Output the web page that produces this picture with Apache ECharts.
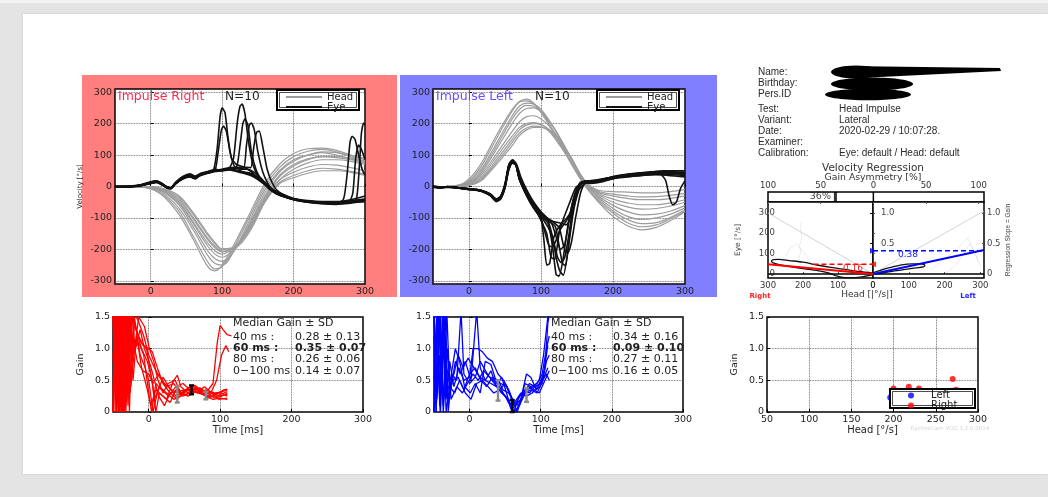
<!DOCTYPE html>
<html><head><meta charset="utf-8">
<script src="https://cdn.jsdelivr.net/npm/echarts@6.0.0/dist/echarts.min.js"></script>
<style>
html,body{margin:0;padding:0;width:1048px;height:497px;overflow:hidden;background:#e4e4e4;}
#topbar{position:absolute;left:0;top:0;width:1048px;height:3px;background:#f3f3f3;}
#page{position:absolute;left:23px;top:14px;width:1025px;height:460px;background:#fff;box-shadow:0 0 2px #c8c8c8;}
#redPanel{position:absolute;left:82px;top:75px;width:315px;height:222px;background:#ff7f7f;}
#bluePanel{position:absolute;left:400px;top:75px;width:317px;height:222px;background:#7f7fff;}
#chart{position:absolute;left:0;top:0;width:1048px;height:497px;}
</style></head><body>
<div id="topbar"></div><div id="page"></div><div id="redPanel"></div><div id="bluePanel"></div><div id="chart"></div>
<script>
// ---------------- DATA ----------------
const headRX = [-50,-30,-10,0,10,20,40,60,80,90,100,120,140,160,180,200,220,240,260,280,300];
const headR = [
[0,0,-3,-8,-18,-35,-90,-170,-255,-268,-250,-170,-80,10,70,105,120,122,115,100,85],
[0,0,-2,-6,-15,-30,-80,-160,-240,-262,-255,-180,-90,0,60,95,112,118,110,95,80],
[0,0,-2,-5,-12,-25,-70,-140,-220,-245,-250,-190,-100,-10,50,85,100,108,100,88,75],
[0,0,-1,-4,-10,-20,-60,-130,-205,-230,-238,-195,-110,-20,45,80,100,110,108,98,90],
[0,0,-1,-3,-8,-18,-55,-120,-190,-215,-225,-190,-115,-30,35,70,88,95,92,85,78],
[0,0,-1,-3,-8,-16,-50,-115,-180,-205,-215,-185,-120,-35,30,65,85,95,95,90,82],
[0,0,0,-2,-6,-14,-45,-105,-170,-195,-208,-190,-125,-42,20,55,75,85,85,80,70],
[0,0,0,-2,-5,-12,-40,-100,-165,-190,-205,-188,-128,-40,20,45,62,70,68,60,50],
[0,0,0,-1,-4,-10,-35,-90,-155,-182,-200,-190,-132,-45,12,35,50,58,55,48,40],
[0,0,0,-1,-3,-8,-30,-85,-150,-178,-198,-192,-138,-50,8,28,42,50,50,45,35]
];
const eyeR = [
[[-50,0],[-35,-2],[-20,2],[-10,8],[0,15],[8,18],[15,10],[22,-2],[28,-5],[35,10],[45,28],[55,32],[62,25],[70,38],[80,45],[88,52],[93,120],[97,220],[100,250],[104,235],[108,160],[113,90],[120,70],[130,62],[140,48],[150,28],[160,8],[170,-12],[185,-30],[200,-42],[220,-50],[240,-55],[260,-57],[280,-50],[300,-42]],
[[-50,0],[-35,0],[-20,3],[-10,6],[0,12],[8,16],[15,8],[22,-4],[28,-8],[35,8],[45,25],[55,35],[62,30],[70,35],[80,42],[90,50],[95,120],[99,180],[102,192],[106,175],[111,110],[117,65],[125,55],[135,55],[145,45],[155,25],[165,0],[175,-20],[190,-35],[210,-45],[230,-50],[250,-50],[270,-48],[290,-42],[300,-40]],
[[-50,0],[-35,1],[-20,0],[-10,5],[0,10],[8,14],[15,6],[22,-3],[28,-6],[35,12],[45,30],[55,36],[62,28],[70,40],[80,48],[90,55],[100,52],[110,58],[116,90],[121,200],[125,255],[128,262],[132,230],[137,140],[143,70],[150,35],[158,12],[166,-8],[180,-28],[200,-40],[220,-48],[240,-52],[260,-55],[280,-52],[300,-48]],
[[-50,0],[-35,-1],[-20,1],[-10,4],[0,9],[8,13],[15,7],[22,-2],[28,-4],[35,14],[45,32],[55,40],[62,33],[70,42],[80,47],[90,50],[100,55],[110,60],[120,62],[125,130],[129,200],[132,215],[136,195],[141,110],[148,50],[156,18],[165,-5],[178,-25],[195,-38],[215,-45],[240,-50],[265,-52],[300,-45]],
[[-50,0],[-35,0],[-20,2],[-10,7],[0,13],[8,17],[15,9],[22,0],[28,-3],[35,10],[45,24],[55,30],[62,26],[70,36],[80,44],[90,48],[100,50],[110,55],[120,58],[130,56],[134,130],[138,195],[141,202],[145,180],[150,110],[157,45],[164,10],[172,-15],[188,-32],[205,-42],[225,-48],[250,-52],[275,-50],[300,-44]],
[[-50,0],[-35,-1],[-20,1],[-10,5],[0,11],[8,15],[15,8],[22,-1],[28,-4],[35,12],[45,27],[55,34],[62,30],[70,40],[80,46],[90,52],[100,53],[110,57],[120,60],[130,62],[140,60],[144,120],[148,172],[152,176],[157,125],[163,55],[170,12],[178,-15],[192,-32],[210,-44],[235,-50],[260,-53],[285,-50],[300,-46]],
[[-50,0],[-35,0],[-20,2],[-10,6],[0,12],[8,15],[15,9],[22,-2],[28,-5],[35,10],[45,26],[55,33],[62,27],[70,38],[80,44],[90,50],[100,52],[110,55],[120,50],[130,45],[140,40],[150,28],[160,10],[170,-10],[185,-28],[200,-40],[220,-48],[240,-52],[260,-56],[270,-40],[275,40],[279,140],[282,160],[286,150],[291,100],[296,55],[300,35]],
[[-50,0],[-35,1],[-20,3],[-10,7],[0,14],[8,17],[15,11],[22,0],[28,-4],[35,9],[45,26],[55,31],[62,24],[70,37],[80,43],[90,49],[100,50],[110,53],[120,48],[130,42],[140,35],[150,22],[160,5],[170,-14],[185,-30],[200,-42],[220,-50],[240,-54],[260,-55],[280,-52],[288,-40],[292,60],[295,170],[298,202],[300,195]],
[[-50,0],[-35,-1],[-20,1],[-10,5],[0,10],[8,14],[15,7],[22,-3],[28,-6],[35,11],[45,28],[55,35],[62,29],[70,39],[80,46],[90,51],[100,54],[110,56],[120,52],[130,46],[140,38],[150,25],[160,8],[170,-12],[185,-28],[200,-40],[220,-47],[240,-50],[260,-52],[278,-48],[283,-20],[287,90],[291,132],[295,118],[300,85]],
[[-50,0],[-35,0],[-20,2],[-10,6],[0,12],[8,16],[15,10],[22,-1],[28,-5],[35,9],[45,25],[55,33],[62,28],[70,37],[80,45],[90,50],[100,52],[110,54],[120,50],[130,46],[140,42],[150,30],[160,12],[170,-8],[185,-25],[200,-38],[220,-45],[240,-48],[260,-48],[280,-42],[300,-30]]
];
const headLX = [-50,-30,-10,0,10,20,40,60,70,80,90,100,110,120,140,160,180,200,220,240,260,280,300];
const headL = [
[0,0,8,25,50,85,170,245,270,278,265,235,200,160,80,5,-50,-95,-125,-138,-130,-108,-80],
[0,0,6,20,42,75,160,240,268,272,262,238,205,165,85,8,-45,-85,-115,-128,-122,-102,-78],
[0,0,5,16,36,65,145,225,255,265,262,245,215,178,95,12,-40,-78,-105,-118,-115,-98,-75],
[0,0,4,14,30,58,135,215,245,258,255,240,212,180,98,15,-35,-70,-95,-105,-100,-88,-68],
[0,0,3,12,26,52,125,200,232,248,250,238,210,178,98,16,-30,-60,-80,-90,-88,-78,-60],
[0,0,2,10,22,45,110,175,205,222,225,215,195,168,100,20,-25,-50,-65,-72,-70,-62,-50],
[0,0,2,8,18,38,100,160,188,200,203,198,182,158,95,18,-22,-40,-52,-58,-58,-52,-42],
[0,0,1,6,15,32,90,150,180,195,200,196,184,162,98,22,-18,-30,-38,-42,-42,-38,-30],
[0,0,1,5,12,28,82,140,170,186,192,190,180,158,95,20,-15,-24,-30,-33,-32,-28,-22],
[0,0,0,4,10,24,75,130,162,180,188,188,178,150,85,15,-12,-16,-18,-20,-20,-16,-10]
];
const eyeL = [
[[-50,0],[-40,-4],[-30,0],[-20,-3],[-10,-5],[0,-8],[10,-10],[20,-15],[30,-28],[38,-45],[44,-35],[50,5],[55,65],[60,82],[65,72],[70,25],[80,-25],[90,-65],[100,-92],[110,-118],[116,-190],[121,-280],[125,-285],[130,-240],[137,-130],[145,-40],[153,5],[162,18],[175,15],[190,22],[210,32],[230,40],[250,45],[270,48],[290,44],[300,40]],
[[-50,2],[-40,-2],[-30,-3],[-20,-2],[-10,-6],[0,-10],[10,-12],[20,-18],[30,-30],[38,-48],[44,-40],[50,-5],[55,50],[60,75],[66,70],[72,30],[80,-10],[90,-50],[100,-80],[108,-100],[115,-150],[121,-225],[126,-268],[131,-282],[137,-210],[144,-95],[151,-15],[158,14],[170,10],[185,15],[200,25],[230,38],[260,44],[285,45],[300,38]],
[[-50,0],[-40,-3],[-30,-1],[-20,-4],[-10,-4],[0,-7],[10,-9],[20,-14],[30,-25],[38,-40],[44,-30],[50,10],[56,72],[61,85],[66,68],[72,20],[82,-35],[92,-75],[100,-100],[104,-170],[108,-250],[112,-245],[118,-160],[126,-125],[136,-100],[144,-70],[150,-20],[157,12],[170,18],[190,22],[220,35],[250,40],[280,42],[300,40]],
[[-50,-2],[-40,-5],[-30,0],[-20,-2],[-10,-7],[0,-9],[10,-11],[20,-16],[30,-26],[38,-42],[44,-33],[50,0],[55,55],[60,78],[65,74],[70,28],[80,-18],[90,-58],[100,-85],[110,-108],[120,-128],[126,-200],[130,-245],[134,-252],[140,-150],[147,-35],[155,8],[165,15],[180,18],[200,32],[230,42],[260,46],[300,45]],
[[-50,0],[-40,-4],[-30,-2],[-20,-3],[-10,-5],[0,-8],[10,-10],[20,-14],[30,-24],[38,-40],[44,-32],[50,2],[55,60],[60,80],[65,70],[70,22],[80,-28],[90,-68],[100,-95],[108,-105],[115,-118],[121,-160],[127,-200],[133,-185],[142,-70],[150,-5],[160,15],[175,20],[200,30],[230,40],[260,38],[300,30]],
[[-50,0],[-40,-3],[-30,-1],[-20,-3],[-10,-6],[0,-9],[10,-12],[20,-17],[30,-30],[38,-46],[44,-37],[50,-2],[55,58],[60,76],[65,68],[70,24],[80,-22],[90,-62],[100,-108],[108,-150],[114,-225],[119,-232],[126,-140],[135,-110],[142,-80],[150,-20],[158,10],[170,12],[200,25],[240,35],[265,40],[273,20],[278,-30],[283,-58],[288,-50],[294,-5],[300,18]],
[[-50,0],[-40,-5],[-30,-1],[-20,-2],[-10,-5],[0,-7],[10,-10],[20,-15],[30,-27],[38,-43],[44,-34],[50,4],[55,62],[60,80],[65,71],[70,26],[80,-20],[90,-60],[100,-88],[112,-105],[125,-130],[132,-195],[137,-212],[142,-180],[148,-100],[155,-20],[162,14],[180,20],[200,30],[240,42],[270,50],[300,50]],
[[-50,1],[-40,-3],[-30,-2],[-20,-4],[-10,-6],[0,-9],[10,-11],[20,-16],[30,-28],[38,-44],[44,-36],[50,0],[55,56],[60,77],[65,72],[70,30],[80,-15],[90,-55],[98,-78],[106,-95],[115,-110],[125,-115],[135,-122],[145,-70],[153,-10],[162,10],[180,15],[200,28],[240,35],[270,38],[300,35]],
[[-50,0],[-40,-4],[-30,0],[-20,-3],[-10,-5],[0,-8],[10,-10],[20,-15],[30,-26],[38,-41],[44,-31],[50,6],[55,68],[60,84],[65,73],[70,22],[80,-30],[90,-70],[100,-102],[106,-150],[111,-188],[116,-192],[122,-165],[130,-110],[140,-50],[148,-5],[157,12],[175,18],[200,30],[230,40],[260,45],[300,45]],
[[-50,0],[-40,-3],[-30,-1],[-20,-2],[-10,-6],[0,-8],[10,-11],[20,-16],[30,-29],[38,-47],[44,-38],[50,-3],[55,52],[60,74],[65,70],[70,28],[80,-18],[90,-58],[100,-95],[110,-130],[117,-170],[123,-225],[128,-242],[133,-225],[139,-150],[146,-40],[154,12],[165,18],[185,20],[210,32],[250,40],[300,40]]
];
const gainR = [
[[-50,1.6],[-47,0],[-44,1.6],[-40,0.2],[-36,1.6],[-32,0.4],[-28,1.6],[-22,1.5],[-15,1.2],[-8,1.05],[0,1.0],[5,0.95],[12,0.7],[20,0.45],[30,0.3],[40,0.32],[50,0.35],[60,0.37],[70,0.35],[80,0.3],[90,0.45],[96,1.1],[100,1.37],[104,1.3],[110,1.22],[116,1.2]],
[[-50,0],[-46,1.6],[-43,0.1],[-39,1.6],[-35,0],[-30,1.6],[-26,0.3],[-20,1.4],[-10,1.0],[-2,0.8],[5,0.5],[10,0.0],[15,0.3],[25,0.2],[35,0.5],[40,0.58],[45,0.4],[55,0.3],[65,0.4],[75,0.3],[85,0.25],[95,0.5],[102,0.9],[108,1.05],[112,0.95]],
[[-50,1.6],[-45,0.5],[-41,1.6],[-37,0],[-33,1.6],[-29,0.1],[-25,1.6],[-18,1.3],[-10,1.1],[-3,1.0],[3,0.6],[8,0.2],[15,0.4],[25,0.3],[35,0.2],[45,0.25],[55,0.35],[65,0.38],[75,0.28],[85,0.25],[95,0.25],[105,0.3],[110,0.32]],
[[-50,0.3],[-47,1.6],[-42,0],[-38,1.6],[-34,0.2],[-30,1.6],[-24,0.8],[-20,1.5],[-12,0.9],[-5,0.7],[0,0.5],[6,0],[12,0.3],[20,0.55],[28,0.4],[38,0.25],[48,0.3],[58,0.4],[68,0.32],[78,0.27],[90,0.2],[100,0.22],[110,0.2]],
[[-50,1.6],[-45,0],[-40,1.6],[-36,0.5],[-31,1.6],[-27,0],[-23,1.6],[-15,1.45],[-7,1.2],[0,0.9],[8,0.7],[15,0.55],[25,0.4],[35,0.45],[45,0.3],[55,0.38],[65,0.42],[75,0.33],[85,0.3],[95,0.28],[105,0.35],[110,0.36]],
[[-50,0],[-44,1.6],[-40,0],[-35,1.6],[-31,0.2],[-27,1.6],[-22,0.5],[-17,1.2],[-10,0.7],[-3,0.4],[3,0.1],[10,0.35],[20,0.25],[30,0.15],[38,0.35],[48,0.25],[58,0.3],[68,0.38],[78,0.3],[88,0.32],[98,0.25],[110,0.28]],
[[-50,1.6],[-46,0.2],[-42,1.6],[-38,0],[-34,1.6],[-28,0.7],[-24,1.6],[-19,1.0],[-12,1.3],[-6,1.0],[2,0.75],[8,0.5],[14,0.25],[22,0.1],[30,0.3],[40,0.2],[50,0.35],[60,0.33],[70,0.3],[80,0.35],[92,0.3],[102,0.3],[110,0.25]],
[[-50,0.8],[-47,1.6],[-43,0],[-39,1.6],[-34,0],[-29,1.6],[-25,0.4],[-20,1.0],[-14,1.1],[-7,0.9],[0,0.3],[4,0],[10,0.45],[18,0.35],[28,0.25],[38,0.4],[48,0.45],[58,0.35],[68,0.3],[78,0.4],[88,0.3],[98,0.2],[110,0.22]],
[[-50,1.6],[-45,0.8],[-41,0],[-37,1.6],[-32,0.5],[-28,1.6],[-23,1.2],[-16,0.8],[-8,0.65],[0,0.6],[6,0.45],[14,0.6],[22,0.45],[32,0.35],[42,0.3],[52,0.28],[62,0.35],[72,0.38],[82,0.3],[92,0.22],[102,0.25],[110,0.3]],
[[-50,0],[-46,1.6],[-41,0.3],[-36,1.6],[-32,0],[-26,1.6],[-21,0.9],[-14,1.5],[-6,1.35],[1,1.0],[7,0.8],[13,0.5],[20,0.3],[27,0.45],[37,0.5],[45,0.3],[55,0.25],[65,0.32],[75,0.28],[85,0.22],[95,0.3],[105,0.33],[110,0.35]]
];
const gainL = [
[[-50,1.6],[-47,0],[-43,1.6],[-39,0.3],[-34,1.6],[-30,0],[-25,0.6],[-18,0.5],[-12,1.6],[-8,0.6],[0,0.45],[8,0.55],[15,0.8],[25,0.6],[35,0.45],[45,0.3],[55,0.2],[62,0],[70,0.25],[80,0.35],[90,0.4],[98,0.5],[104,0.9],[110,1.5],[112,1.6]],
[[-50,0],[-45,1.6],[-41,0],[-36,1.6],[-32,0.2],[-28,0.8],[-22,0.4],[-15,0.7],[-8,0.5],[0,0.55],[5,1.0],[12,1.0],[18,0.95],[25,0.85],[32,0.8],[40,0.6],[48,0.5],[55,0.35],[62,0.15],[70,0.1],[78,0.45],[86,0.4],[95,0.45],[102,0.6],[108,1.0],[112,1.2]],
[[-50,0.5],[-46,1.6],[-42,0.1],[-38,1.6],[-33,0.5],[-27,0.3],[-20,0.8],[-13,0.6],[-6,0.8],[2,0.5],[10,1.6],[15,0.7],[22,0.5],[30,0.45],[38,0.4],[45,0.55],[52,0.3],[58,0.05],[65,0],[72,0.2],[80,0.6],[86,0.55],[94,0.35],[102,0.45],[108,0.8],[112,0.9]],
[[-50,1.6],[-46,0.4],[-41,1.6],[-37,0],[-31,1.0],[-26,0.2],[-18,0.4],[-10,0.3],[-3,0.45],[5,0.6],[12,0.5],[20,0.65],[28,0.55],[35,0.5],[42,0.4],[50,0.25],[57,0.1],[63,0],[70,0.1],[78,0.3],[86,0.35],[95,0.3],[103,0.5],[110,0.7]],
[[-50,0.2],[-44,1.6],[-40,0.6],[-35,1.2],[-30,0.2],[-24,0.5],[-16,0.55],[-8,0.35],[0,0.6],[8,0.7],[16,0.5],[24,0.4],[32,0.55],[40,0.5],[47,0.35],[55,0.3],[63,0.15],[72,0.3],[80,0.25],[88,0.3],[96,0.4],[104,0.6],[110,1.05]],
[[-50,1.2],[-47,0],[-42,1.6],[-38,0.2],[-33,0.7],[-27,0.5],[-20,1.0],[-14,0.8],[-7,0.4],[1,0.3],[8,0.45],[15,0.3],[22,0.8],[30,0.75],[37,0.5],[44,0.45],[52,0.4],[60,0.2],[67,0],[74,0.25],[82,0.4],[90,0.35],[98,0.3],[106,0.5],[112,0.65]],
[[-50,0],[-45,0.9],[-41,0],[-37,1.6],[-33,0],[-28,0.4],[-21,0.3],[-14,0.5],[-6,0.3],[2,0.2],[10,0.45],[18,0.5],[26,0.4],[34,0.3],[42,0.35],[50,0.45],[56,0.3],[62,0.1],[68,0.2],[76,0.35],[84,0.3],[92,0.4],[100,0.45],[108,0.6],[112,0.5]],
[[-50,1.6],[-46,0.2],[-42,0.9],[-37,0.1],[-32,1.6],[-28,0.4],[-22,0.6],[-16,0.9],[-9,0.7],[-2,0.85],[6,0.7],[14,0.55],[22,0.5],[30,0.65],[38,0.4],[46,0.3],[54,0.2],[60,0.05],[68,0.15],[76,0.25],[84,0.45],[92,0.4],[100,0.45],[106,0.7],[110,1.4],[113,1.6]]
];
// median gain ± SD at 40, 60, 80 ms
const errR = [[40,0.28,0.13],[60,0.35,0.07],[80,0.26,0.06]];
const errL = [[40,0.34,0.16],[60,0.09,0.10],[80,0.27,0.11]];
const gainRowLabels = ['40 ms :','60 ms :','80 ms :','0\u2212100 ms'];
const gainTextR = ['0.28 \u00b1 0.13','0.35 \u00b1 0.07','0.26 \u00b1 0.06','0.14 \u00b1 0.07'];
const gainTextL = ['0.34 \u00b1 0.16','0.09 \u00b1 0.10','0.27 \u00b1 0.11','0.16 \u00b1 0.05'];
// gain vs head velocity
const scatterLeft = [[196,0.23]];
const scatterRight = [[200,0.37],[218,0.40],[230,0.37],[270,0.52],[274,0.35]];
// velocity regression
const regGainRight = 0.16;
const regGainLeft = 0.38;
const gainAsymmetry = 36; // % towards right
const regLoopRight = [[0,4],[40,12],[80,22],[120,32],[160,44],[200,58],[240,66],[270,72],[285,70],[290,62],[285,54],[265,44],[230,34],[190,24],[150,14],[125,4],[105,-10],[80,-18],[50,-18],[25,-12],[5,-6],[0,-2]];
const regLoopLeft = [[0,-3],[30,5],[60,15],[90,22],[120,30],[140,35],[145,42],[135,50],[110,50],[80,45],[50,32],[25,20],[10,12],[0,5]];
const regDotsRight = [[[205,255],[208,220],[203,180],[210,140],[206,110],[212,80],[208,50]],[[180,60],[195,100],[220,150],[240,120],[255,60]]];
const regDotsLeft = [[[160,20],[190,60],[220,100],[245,140],[265,180],[280,120],[295,60]],[[200,0],[230,40],[250,90],[270,150],[285,100],[300,40]]];
const infoLabels = ['Name:','Birthday:','Pers.ID','Test:','Variant:','Date:','Examiner:','Calibration:'];
const infoValues = ['','','','Head Impulse','Lateral','2020-02-29 / 10:07:28.','','Eye: default / Head: default'];

// ---------------- CHART ----------------
const PF = 'DejaVu Sans';
const IF = 'Liberation Sans';
const chart = echarts.init(document.getElementById('chart'), null, {renderer:'canvas'});
const dotted = {show:true, lineStyle:{type:'dotted', color:'#444', width:0.8}};
const tickIn = {show:true, inside:true, length:3, lineStyle:{color:'#000', width:1}};
const lab = (size, extra) => Object.assign({fontFamily:PF, fontSize:size, color:'#222'}, extra||{});
const gfmt = v => (Math.abs(v) < 1e-9 ? '0' : v.toFixed(1));
const gridBase = {show:true, backgroundColor:'#fff', borderColor:'#000', borderWidth:1.5, containLabel:false, outerBoundsMode:'none'};

const grids = [
  Object.assign({left:115, top:89, width:250, height:195}, gridBase),
  Object.assign({left:433, top:89, width:252, height:195}, gridBase),
  Object.assign({left:113, top:317, width:250, height:95}, gridBase),
  Object.assign({left:434, top:317, width:249, height:95}, gridBase),
  Object.assign({left:767, top:317, width:211, height:95}, gridBase),
  Object.assign({left:768, top:192, width:216, height:10}, gridBase),
  Object.assign({left:768, top:202, width:105, height:76}, gridBase),
  Object.assign({left:873, top:202, width:111, height:76}, gridBase)
];

function timeX(gi, withName) {
  const a = {gridIndex:gi, type:'value', min:-50, max:300, splitNumber:4, axisLine:{show:false}, axisTick:tickIn,
    axisLabel:Object.assign(lab(9.5), {margin:3, showMinLabel:false}), splitLine:dotted};
  if (withName) Object.assign(a, {name:'Time [ms]', nameLocation:'middle', nameGap:11, nameTextStyle:lab(10)});
  return a;
}
const xAxes = [
  timeX(0,false), timeX(1,false), timeX(2,true), timeX(3,true),
  {gridIndex:4, type:'value', min:50, max:300, interval:50, axisLine:{show:false}, axisTick:tickIn,
   axisLabel:Object.assign(lab(9.5), {margin:3}), splitLine:dotted,
   name:'Head [\u00b0/s]', nameLocation:'middle', nameGap:11, nameTextStyle:lab(10)},
  {gridIndex:5, type:'value', position:'top', min:-100, max:105, splitNumber:5, axisLine:{show:false}, axisTick:{show:true, inside:true, length:2},
   axisLabel:Object.assign(lab(8.5,{color:'#333'}), {margin:2, showMaxLabel:false, formatter:v=>String(Math.abs(v))}), splitLine:{show:false}},
  {gridIndex:6, type:'value', min:0, max:300, inverse:true, splitNumber:3, axisLine:{show:false}, axisTick:{show:true, inside:true, length:2},
   axisLabel:Object.assign(lab(8.5,{color:'#333'}), {margin:3}), splitLine:{show:false}},
  {gridIndex:7, type:'value', min:0, max:310, splitNumber:3, axisLine:{show:false}, axisTick:{show:true, inside:true, length:2},
   axisLabel:Object.assign(lab(8.5,{color:'#333'}), {margin:3, showMaxLabel:false}), splitLine:{show:false}}
];
function velY(gi, withName) {
  const a = {gridIndex:gi, type:'value', min:-310, max:310, splitNumber:6, axisLine:{show:false}, axisTick:tickIn,
    axisLabel:Object.assign(lab(9.5), {margin:3, showMinLabel:false, showMaxLabel:false}), splitLine:dotted};
  if (withName) Object.assign(a, {name:'Velocity [\u00b0/s]', nameLocation:'middle', nameGap:31, nameTextStyle:lab(7)});
  return a;
}
function gainY(gi, withName) {
  const a = {gridIndex:gi, type:'value', min:0, max:1.5, interval:0.5, axisLine:{show:false}, axisTick:tickIn,
    axisLabel:Object.assign(lab(9.5), {margin:3, formatter:gfmt}), splitLine:dotted};
  if (withName) Object.assign(a, {name:'Gain', nameLocation:'middle', nameGap:27, nameTextStyle:lab(9.5)});
  return a;
}
const gMin = -20/300, gMax = 354/300;
const yAxes = [
  velY(0,true), velY(1,false), gainY(2,true), gainY(3,false), gainY(4,true),
  {gridIndex:5, type:'value', min:0, max:1, show:false},
  {gridIndex:6, type:'value', min:-20, max:354, splitNumber:5, axisLine:{show:false}, axisTick:{show:true, inside:true, length:2},
   axisLabel:Object.assign(lab(8.5,{color:'#444'}), {margin:-7, showMinLabel:false, showMaxLabel:false}), splitLine:{show:false},
   name:'Eye [\u00b0/s]', nameLocation:'middle', nameGap:26, nameTextStyle:lab(7.5,{color:'#444'})},
  {gridIndex:7, type:'value', min:-20, max:354, show:false},
  {gridIndex:7, type:'value', position:'right', min:gMin, max:gMax, splitNumber:2, axisLine:{show:false}, axisTick:{show:true, inside:true, length:2},
   axisLabel:Object.assign(lab(8.5,{color:'#444'}), {margin:3, showMinLabel:false, showMaxLabel:false, formatter:gfmt}), splitLine:{show:false},
   name:'Regression Slope = Gain', nameLocation:'middle', nameGap:19, nameTextStyle:{fontFamily:IF, fontSize:6.5, color:'#444'}},
  {gridIndex:7, type:'value', position:'left', min:gMin, max:gMax, splitNumber:2, axisLine:{show:false}, axisTick:{show:true, length:3, lineStyle:{color:'#000'}},
   axisLabel:Object.assign(lab(8.5,{color:'#444'}), {inside:true, margin:8, showMinLabel:false, showMaxLabel:false, formatter:v=>(v>0.01?v.toFixed(1):'')}), splitLine:{show:false}}
];

const series = [];
const line = (name, xi, yi, data, color, width, z, extra) => series.push(Object.assign({
  type:'line', name, xAxisIndex:xi, yAxisIndex:yi, data, symbol:'none', silent:true, z,
  lineStyle:{color, width}, itemStyle:{color}}, extra||{}));

headR.forEach(v => line('Head',0,0, headRX.map((x,i)=>[x,v[i]]), '#9c9c9c', 1.2, 2, {smooth:0.35}));
eyeR.forEach(d => line('Eye',0,0, d, '#111', 1.6, 3, {smooth:0.2}));
headL.forEach(v => line('Head',1,1, headLX.map((x,i)=>[x,v[i]]), '#9c9c9c', 1.2, 2, {smooth:0.35}));
eyeL.forEach(d => line('Eye',1,1, d, '#111', 1.6, 3, {smooth:0.2}));
gainR.forEach(d => line('Gain right',2,2, d, '#ff0000', 1.3, 2));
gainL.forEach(d => line('Gain left',3,3, d, '#0000ff', 1.3, 2));

function errBar(colors) {
  return function(params, api) {
    const x = api.value(0), m = api.value(1), s = api.value(2);
    const p1 = api.coord([x, m + s]), p2 = api.coord([x, Math.max(0, m - s)]);
    const c = colors[params.dataIndex], w = 2.5;
    const st = {stroke:c, lineWidth:2.4};
    return {type:'group', children:[
      {type:'line', shape:{x1:p1[0], y1:p1[1], x2:p2[0], y2:p2[1]}, style:st},
      {type:'line', shape:{x1:p1[0]-w, y1:p1[1], x2:p1[0]+w, y2:p1[1]}, style:st},
      {type:'line', shape:{x1:p2[0]-w, y1:p2[1], x2:p2[0]+w, y2:p2[1]}, style:st}
    ]};
  };
}
const errColors = ['#8a8a8a','#000000','#8a8a8a'];
series.push({type:'custom', name:'errR', xAxisIndex:2, yAxisIndex:2, data:errR, renderItem:errBar(errColors), z:4, silent:true});
series.push({type:'custom', name:'errL', xAxisIndex:3, yAxisIndex:3, data:errL, renderItem:errBar(errColors), z:4, silent:true});

series.push({type:'scatter', name:'Left', xAxisIndex:4, yAxisIndex:4, data:scatterLeft, symbolSize:6, itemStyle:{color:'#0000ff'}, z:2, silent:true});
series.push({type:'scatter', name:'Right', xAxisIndex:4, yAxisIndex:4, data:scatterRight, symbolSize:6, itemStyle:{color:'#ff0000'}, z:2, silent:true});

// asymmetry strip
line('centre',5,5, [[0,0],[0,1]], '#000', 1.5, 3);
series.push({type:'scatter', name:'asym', xAxisIndex:5, yAxisIndex:5, data:[[-gainAsymmetry,0.5]], symbol:'rect', symbolSize:[3,10],
  itemStyle:{color:'#000'}, silent:true, z:4,
  label:{show:true, position:'left', distance:3, formatter:gainAsymmetry+'%', fontFamily:PF, fontSize:9.5, color:'#111'}});

// regression left half (impulses to the right)
line('unity',6,6, [[300,300],[0,0]], '#c8c8c8', 0.8, 1);
regDotsRight.forEach(d => line('trace',6,6, d, '#cfcfcf', 0.8, 1, {lineStyle:{color:'#cfcfcf', width:0.8, type:'dotted'}}));
line('loop',6,6, regLoopRight, '#111', 1.3, 2, {smooth:0.3});
line('zero',6,6, [[300,0],[0,0]], '#000', 1.5, 3);
line('regR',6,6, [[0,0],[300,300*regGainRight]], '#ff0000', 2, 4);
line('regRd',6,6, [[170,300*regGainRight],[0,300*regGainRight]], '#ff0000', 1.5, 4, {lineStyle:{color:'#ff0000', width:1.5, type:[5,3]}});
series.push({type:'scatter', name:'mR', xAxisIndex:6, yAxisIndex:6, data:[[0,300*regGainRight]], symbol:'triangle', symbolRotate:90, symbolSize:6, itemStyle:{color:'#ff0000'}, z:5, silent:true});
// regression right half (impulses to the left)
line('unity',7,7, [[0,0],[310,310]], '#c8c8c8', 0.8, 1);
regDotsLeft.forEach(d => line('trace',7,7, d, '#cfcfcf', 0.8, 1, {lineStyle:{color:'#cfcfcf', width:0.8, type:'dotted'}}));
line('loop',7,7, regLoopLeft, '#111', 1.3, 2, {smooth:0.3});
line('zero',7,7, [[0,0],[310,0]], '#000', 1.5, 3);
line('regL',7,7, [[0,0],[310,310*regGainLeft]], '#0000ff', 2, 4);
line('regLd',7,7, [[0,300*regGainLeft],[310,300*regGainLeft]], '#0000ff', 1.5, 4, {lineStyle:{color:'#0000ff', width:1.5, type:[5,3]}});
series.push({type:'scatter', name:'mL', xAxisIndex:7, yAxisIndex:7, data:[[0,300*regGainLeft]], symbol:'triangle', symbolRotate:-90, symbolSize:6, itemStyle:{color:'#0000ff'}, z:5, silent:true});

// ---------------- GRAPHIC ----------------
const g = [];
const T = (text, x, y, o) => g.push(Object.assign({type:'text', x, y, z:6, silent:true,
  style:Object.assign({text, fontFamily:PF, fontSize:10, fill:'#222', align:'left', verticalAlign:'middle'}, (o&&o.style)||{})}, (o&&o.el)||{}));
T('Impulse Right', 118, 97, {style:{fontSize:12.5, fill:'#ff2a50'}});
T('N=10', 225, 97, {style:{fontSize:12.2, fill:'#222'}});
T('Impulse Left', 436, 97, {style:{fontSize:12.5, fill:'#6a4cff'}});
T('N=10', 535, 97, {style:{fontSize:12.2, fill:'#222'}});
// legend frames
const box = (x,y,w,h) => {
  g.push({type:'rect', shape:{x, y, width:w, height:h}, style:{fill:'#fff', stroke:'#000', lineWidth:2}, z:3, silent:true});
  g.push({type:'rect', shape:{x:x+2.5, y:y+2.5, width:w-5, height:h-5}, style:{fill:null, stroke:'#000', lineWidth:0.7}, z:3, silent:true});
};
box(277,90,82,20); box(597,90,82,20); box(890,389,85,19);
// info
const infoRowY = [72,83,94,109,120.5,131.5,142.5,153.5];
infoLabels.forEach((t,i)=>T(t, 758, infoRowY[i], {style:{fontFamily:IF, fontSize:10, fill:'#2a2a2a'}}));
infoValues.forEach((t,i)=>{ if (t) T(t, 839, infoRowY[i], {style:{fontFamily:IF, fontSize:10, fill:'#2a2a2a'}}); });
// redaction
[{type:'ellipse', shape:{cx:856, cy:72, rx:25, ry:6.5}},
 {type:'polygon', shape:{points:[[845,66],[1000,68],[1001,71],[860,78]]}},
 {type:'ellipse', shape:{cx:872, cy:84, rx:41, ry:6.5}},
 {type:'ellipse', shape:{cx:868, cy:94.5, rx:43, ry:5.8}}].forEach(e=>g.push(Object.assign(e,{style:{fill:'#000'}, z:7, silent:true})));
// regression titles
T('Velocity Regression', 873, 168, {style:{fontSize:10.5, align:'center', fill:'#333'}});
T('Gain Asymmetry [%]', 873, 178, {style:{fontSize:9.3, align:'center', fill:'#333'}});
T('Head [|\u00b0/s|]', 867, 295, {style:{fontSize:9, align:'center', fill:'#333'}});
T('Right', 760, 296.5, {style:{fontSize:7, align:'center', fill:'#ff2020', fontWeight:'bold'}});
T('Left', 968, 296.5, {style:{fontSize:7, align:'center', fill:'#2020ff', fontWeight:'bold'}});
T(regGainRight.toFixed(2), 843, 268.5, {style:{fontSize:9, fill:'#ff2020'}});
T(regGainLeft.toFixed(2), 898, 255, {style:{fontSize:9, fill:'#2020ff'}});
// gain annotations
const rowY = [337.5, 348.5, 359, 371.5];
[[233,295,gainTextR],[551,613,gainTextL]].forEach(([lx,vx,vals])=>{
  T('Median Gain \u00b1 SD', lx, 323, {style:{fontSize:11}});
  gainRowLabels.forEach((t,i)=>T(t, lx, rowY[i], {style:{fontSize:11, fontWeight:i===1?'bold':'normal'}}));
  vals.forEach((t,i)=>T(t, vx, rowY[i], {style:{fontSize:11, fontWeight:i===1?'bold':'normal'}}));
});
T('EyeSeeCam VOG 1.2.0.0814', 950, 429, {style:{fontSize:5.5, align:'center', fill:'#d4d4d4'}});

const legendText = {fontFamily:PF, fontSize:10, color:'#222', lineHeight:9};
const legendCommon = {orient:'vertical', itemGap:0, padding:[1,2,1,2], selectedMode:false, z:5};
chart.setOption({
  animation:false,
  backgroundColor:'transparent',
  grid:grids, xAxis:xAxes, yAxis:yAxes, series,
  legend:[
    Object.assign({data:['Head','Eye'], left:283, top:91, itemWidth:36, itemHeight:8, textStyle:legendText, itemStyle:{opacity:0}}, legendCommon),
    Object.assign({data:['Head','Eye'], left:603, top:91, itemWidth:36, itemHeight:8, textStyle:legendText, itemStyle:{opacity:0}}, legendCommon),
    Object.assign({data:['Left','Right'], left:906, top:389.5, itemWidth:20, itemHeight:6,
      textStyle:Object.assign({}, legendText, {padding:[0,0,0,5]})}, legendCommon)
  ],
  graphic:{elements:g}
});
</script></body></html>
